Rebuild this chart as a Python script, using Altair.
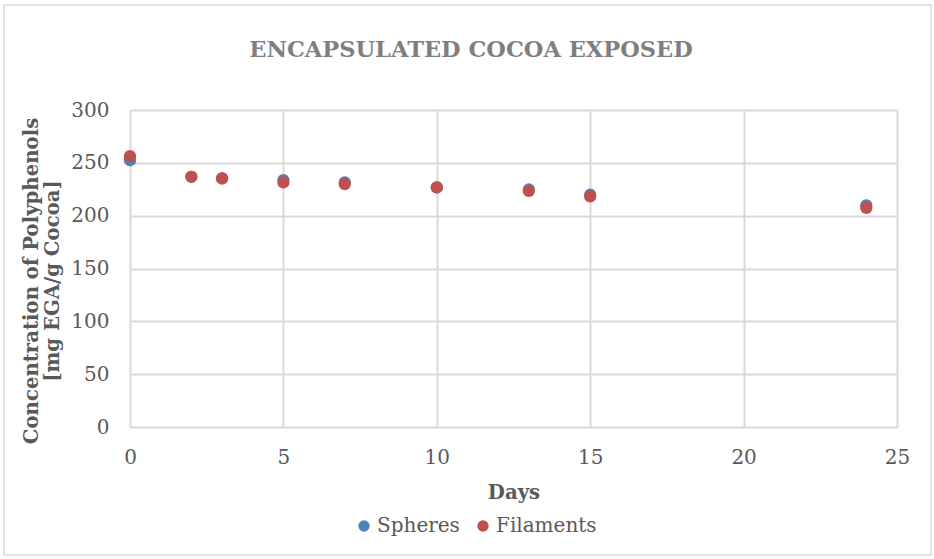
import altair as alt
import pandas as pd

# Polyphenol concentration measured over storage days
days = [0, 2, 3, 5, 7, 10, 13, 15, 24]
spheres = [252.5, 236.8, 235.3, 233.7, 231.5, 226.7, 224.8, 219.8, 209.7]
filaments = [256.3, 236.8, 235.3, 231.5, 229.9, 226.7, 223.4, 218.2, 207.3]
series_names = ["Spheres", "Filaments"]
series_colors = ["#4F81BD", "#C0504D"]
chart_title = "ENCAPSULATED COCOA EXPOSED"

rows = []
for name, vals in zip(series_names, [spheres, filaments]):
    for d, v in zip(days, vals):
        rows.append({"Days": d, "Value": v, "Series": name})
df = pd.DataFrame(rows)

FONT = "DejaVu Serif"
GRAY = "#595959"
W, H = 767, 317
PAD_L, PAD_T = 130, 110
PAD_R, PAD_B = 934 - PAD_L - W, 559 - PAD_T - H

points = alt.Chart(df).mark_circle(size=150, opacity=1).encode(
    x=alt.X("Days:Q",
            scale=alt.Scale(domain=[0, 25], nice=False),
            axis=alt.Axis(values=[0, 5, 10, 15, 20, 25], title="Days",
                          grid=True, domain=False, ticks=False, labelFlush=False,
                          labelPadding=20, titlePadding=15)),
    y=alt.Y("Value:Q",
            scale=alt.Scale(domain=[0, 300], nice=False),
            axis=alt.Axis(values=[0, 50, 100, 150, 200, 250, 300],
                          title=["Concentration of Polyphenols", "[mg EGA/g Cocoa]"],
                          grid=True, domain=False, ticks=False, labelFlush=False,
                          labelPadding=21, titlePadding=8, titleY=H / 2 + 12)),
    color=alt.Color("Series:N",
                    scale=alt.Scale(domain=series_names, range=series_colors),
                    sort=series_names,
                    legend=alt.Legend(title=None, orient="none", direction="horizontal",
                                      legendX=224, legendY=406, symbolType="circle",
                                      symbolSize=130, labelFontSize=20, labelFont=FONT,
                                      labelColor=GRAY, columnPadding=13, symbolOffset=0,
                                      labelOffset=3)),
    order=alt.Order("order:Q"),
).transform_calculate(order="datum.Series == 'Spheres' ? 0 : 1")

# Chart heading, centred over the whole figure
heading = alt.Chart(pd.DataFrame({"t": [chart_title]})).mark_text(
    font=FONT, fontSize=22.5, fontWeight="bold", color="#7F7F7F",
    align="center", baseline="alphabetic", clip=False
).encode(text="t:N", x=alt.value(471 - PAD_L), y=alt.value(57 - PAD_T))

# Thin frame around the whole chart
frame = alt.Chart(pd.DataFrame({"a": [0]})).mark_rect(
    fill=None, stroke="#d9d9d9", strokeWidth=1.5, clip=False
).encode(x=alt.value(4 - PAD_L), x2=alt.value(931 - PAD_L),
         y=alt.value(5 - PAD_T), y2=alt.value(555 - PAD_T))

chart = alt.layer(frame, heading, points).properties(
    width=W, height=H,
    autosize=alt.AutoSizeParams(type="none"),
    padding={"left": PAD_L, "top": PAD_T, "right": PAD_R, "bottom": PAD_B},
    background="white",
).configure_view(stroke=None).configure_axis(
    labelFont=FONT, labelFontSize=20, labelColor=GRAY,
    titleFont=FONT, titleFontSize=19.7, titleColor=GRAY, titleFontWeight="bold",
    gridColor="#d9d9d9", gridWidth=2,
)

chart.save("out.html", embed_options={"renderer": "svg", "actions": False})
